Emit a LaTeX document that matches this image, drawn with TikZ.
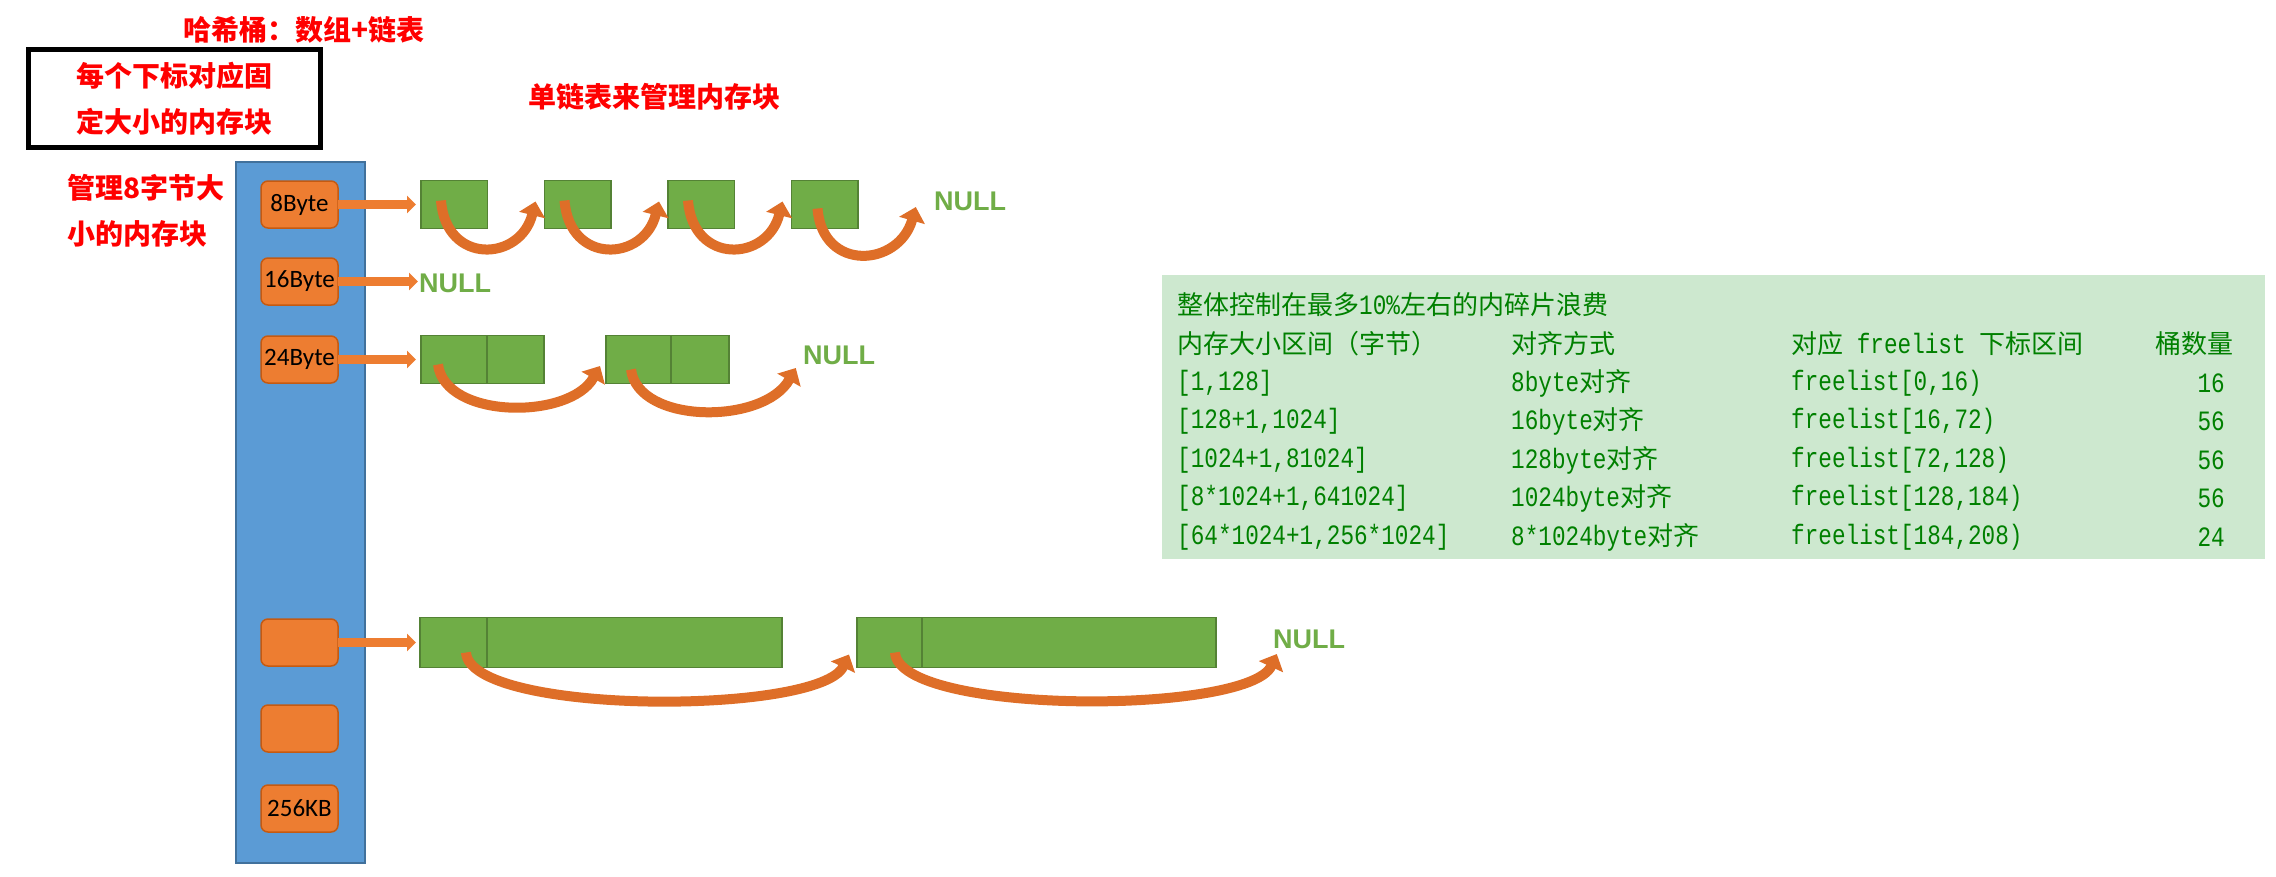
\documentclass[tikz,border=0pt]{standalone}
\usepackage{fontspec}
\setmainfont{Liberation Sans}
\newfontfamily\cjk{Noto Sans CJK SC}
\newfontfamily\tabmono{Liberation Mono}[FakeStretch=0.81]
\newfontfamily\labelfont{Carlito}
\usetikzlibrary{positioning, arrows.meta}
\definecolor{barblue}{RGB}{91,155,213}
\definecolor{barline}{RGB}{65,113,156}
\definecolor{boxorange}{RGB}{237,125,49}
\definecolor{boxline}{RGB}{197,90,17}
\definecolor{blockgreen}{RGB}{112,173,71}
\definecolor{blockline}{RGB}{84,130,53}
\definecolor{tabbg}{RGB}{205,232,207}
\definecolor{tabtext}{RGB}{0,128,0}
\definecolor{arrowbrown}{RGB}{222,110,40}
\newcommand{\zh}[1]{{\cjk\fontsize{26}{30}\selectfont #1}}
\tikzset{
	bucket/.style={draw=boxline, line width=1.5pt, fill=boxorange, rounded corners=7pt, minimum width=77pt, minimum height=47pt, inner sep=0pt, outer sep=0pt, font=\labelfont\fontsize{25}{28}\selectfont}, % casillas del arreglo
	memblock/.style={draw=blockline, line width=1.5pt, fill=blockgreen, minimum width=66.5pt, minimum height=48pt, inner sep=0pt, outer sep=0pt}, % bloques de memoria
	nulltext/.style={text=blockgreen, font=\fontsize{27}{30}\selectfont\bfseries, inner sep=1pt}, % fin de la lista
	redtext/.style={text=red, font=\cjk\fontsize{28}{46}\selectfont\bfseries}, % textos rojos
	harrow/.style={draw=boxorange, line width=9pt, -{Triangle[length=9pt,width=17pt]}}, % flecha recta
	carrow/.style={draw=arrowbrown, line width=10pt, -{Triangle[length=14pt,width=26pt]}}, % flecha curva
	tabrow/.style={text=tabtext, anchor=west, inner sep=0pt, font=\tabmono\fontsize{28}{30}\selectfont} % texto de la tabla
}

\begin{document}
\begin{tikzpicture}[x=1pt, y=-1pt]
	\useasboundingbox (0,0) rectangle (2276,876);
	\node[redtext] (title) at (304,30) {哈希桶：数组+链表};
	\node[redtext, draw=black, line width=5pt, minimum width=292pt, minimum height=98pt, align=center] (note) at (174.5,98.5) {每个下标对应固\\定大小的内存块};
	\node[redtext] (listtitle) at (654,97) {单链表来管理内存块};
	\node[redtext, align=left, anchor=west] (note8) at (64,211) {管理8字节大\\小的内存块};

	\node[draw=barline, fill=barblue, line width=1.5pt, minimum width=129pt, minimum height=701pt, inner sep=0pt, outer sep=0pt] (bar) at (300.5,512.5) {};
	\node[bucket] (s8) at (299.5,204.5) {8Byte};
	\node[bucket, below=30pt of s8] (s16) {16Byte};
	\node[bucket, below=31pt of s16] (s24) {24Byte};
	\node[bucket] (sx) at (299.5,642.5) {};
	\node[bucket, below=39pt of sx] (sy) {};
	\node[bucket, below=33pt of sy] (s256) {256KB};

	\node[memblock, right=83pt of s8] (b1) {};
	\node[memblock, right=57pt of b1] (b2) {};
	\node[memblock, right=57pt of b2] (b3) {};
	\node[memblock, right=57pt of b3] (b4) {};
	\node[nulltext] (n8) at (970,201) {NULL};

	\node[nulltext, anchor=west] (n16) at (418,283) {NULL};

	\node[memblock, minimum width=66pt, right=83pt of s24] (c1) {};
	\node[memblock, minimum width=57pt, right=0pt of c1] (c2) {};
	\node[memblock, minimum width=65pt, right=62pt of c2] (c3) {};
	\node[memblock, minimum width=58pt, right=0pt of c3] (c4) {};
	\node[nulltext] (n24) at (839,355) {NULL};

	\node[memblock, minimum width=67pt, minimum height=50pt, right=82pt of sx] (d1) {};
	\node[memblock, minimum width=295pt, minimum height=50pt, right=0pt of d1] (d2) {};
	\node[memblock, minimum width=65pt, minimum height=50pt, right=75pt of d2] (d3) {};
	\node[memblock, minimum width=294pt, minimum height=50pt, right=0pt of d3] (d4) {};
	\node[nulltext] (n4) at (1309,639) {NULL};

	\draw[harrow] (s8) -- ([xshift=-5pt]b1.west);
	\draw[harrow] (s16.east) -- (s16.east -| n16.west);
	\draw[harrow] (s24) -- ([xshift=-5pt]c1.west);
	\draw[harrow] (sx) -- ([xshift=-4pt]d1.west);

	\draw[carrow] ([shift={(20,20)}]b1.north west) .. controls +(5,65) and +(-15,60) .. ([shift={(-9,-3)}]b2.west);
	\draw[carrow] ([shift={(20,20)}]b2.north west) .. controls +(5,65) and +(-15,60) .. ([shift={(-9,-3)}]b3.west);
	\draw[carrow] ([shift={(20,20)}]b3.north west) .. controls +(5,65) and +(-15,60) .. ([shift={(-9,-3)}]b4.west);
	\draw[carrow] ([shift={(26,28)}]b4.north west) .. controls +(5,64) and +(-17,60) .. ([shift={(-17,6)}]n8.west);
	\draw[carrow] ([shift={(17,29)}]c1.north west) .. controls +(7,55) and +(-30,54) .. ([shift={(-6,6.5)}]c3.west);
	\draw[carrow] ([shift={(25,34)}]c3.north west) .. controls +(7,55) and +(-32,57) .. ([shift={(-6,13)}]n24.west);
	\draw[carrow] ([shift={(46,35)}]d1.north west) .. controls +(4,63) and +(-29,61) .. ([shift={(-8,12)}]d3.west);
	\draw[carrow] ([shift={(38,35)}]d3.north west) .. controls +(4,63) and +(-28,61) .. ([shift={(5,15)}]n4.west);

	% tabla
	\fill[tabbg] (1162,275) rectangle (2265,559);
	\node[tabrow] (t0) at (1177,305) {\zh{整体控制在最多}10\%\zh{左右的内碎片浪费}};
	\node[tabrow] (h1) at (1177,344) {\zh{内存大小区间（字节）}};
	\node[tabrow] (h2) at (1511,344) {\zh{对齐方式}};
	\node[tabrow] (h3) at (1791,344) {\zh{对应} freelist \zh{下标区间}};
	\node[tabrow] (h4) at (2155,344) {\zh{桶数量}};
	\node[tabrow] (r11) at (1177,383) {[1,128]};
	\node[tabrow] (r12) at (1511,383) {8byte\zh{对齐}};
	\node[tabrow] (r13) at (1791,383) {freelist[0,16)};
	\node[tabrow, anchor=east] (r14) at (2225,383) {16};
	\node[tabrow] (r21) at (1177,421) {[128+1,1024]};
	\node[tabrow] (r22) at (1511,421) {16byte\zh{对齐}};
	\node[tabrow] (r23) at (1791,421) {freelist[16,72)};
	\node[tabrow, anchor=east] (r24) at (2225,421) {56};
	\node[tabrow] (r31) at (1177,460) {[1024+1,81024]};
	\node[tabrow] (r32) at (1511,460) {128byte\zh{对齐}};
	\node[tabrow] (r33) at (1791,460) {freelist[72,128)};
	\node[tabrow, anchor=east] (r34) at (2225,460) {56};
	\node[tabrow] (r41) at (1177,498) {[8*1024+1,641024]};
	\node[tabrow] (r42) at (1511,498) {1024byte\zh{对齐}};
	\node[tabrow] (r43) at (1791,498) {freelist[128,184)};
	\node[tabrow, anchor=east] (r44) at (2225,498) {56};
	\node[tabrow] (r51) at (1177,537) {[64*1024+1,256*1024]};
	\node[tabrow] (r52) at (1511,537) {8*1024byte\zh{对齐}};
	\node[tabrow] (r53) at (1791,537) {freelist[184,208)};
	\node[tabrow, anchor=east] (r54) at (2225,537) {24};
\end{tikzpicture}
\end{document}
